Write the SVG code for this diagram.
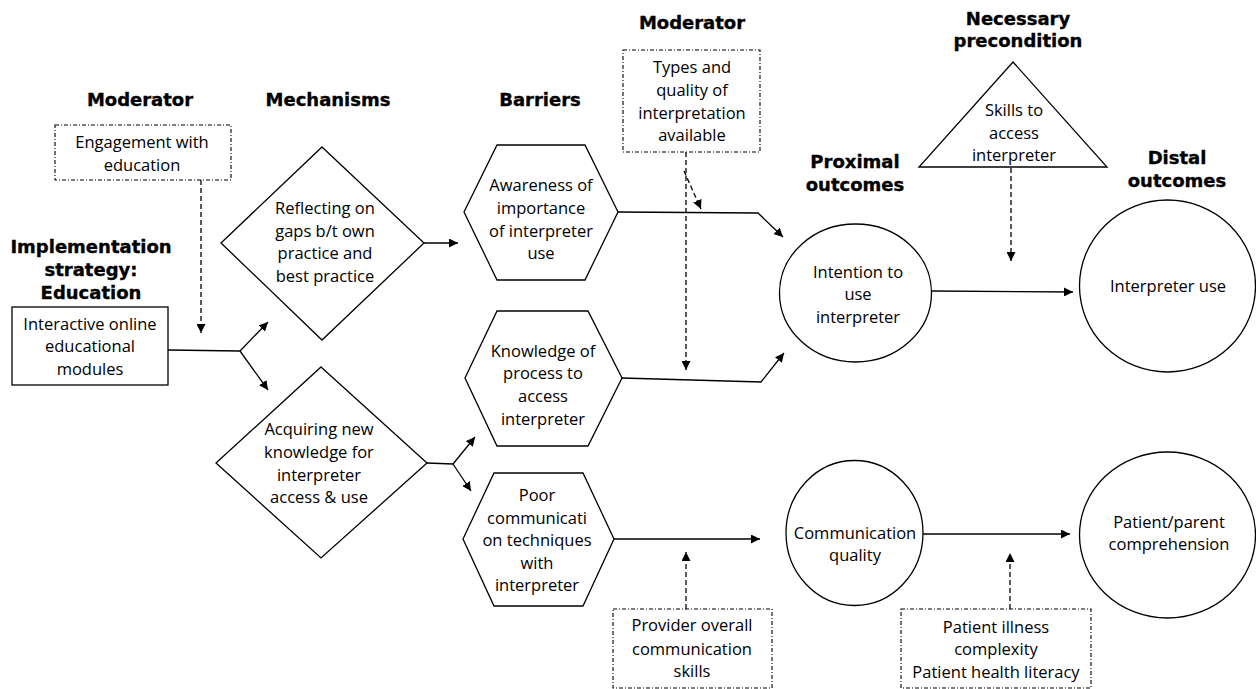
<svg xmlns="http://www.w3.org/2000/svg" width="1256" height="689" viewBox="0 0 1256 689">
<defs>
<style>
.h{font-family:"DejaVu Sans","Liberation Sans",sans-serif;font-weight:bold;font-size:18px;fill:#000;stroke:#000;stroke-width:0.35;text-anchor:middle}
.t{font-family:"Open Sans","Noto Sans","Liberation Sans",sans-serif;font-size:16.5px;fill:#000;text-anchor:middle}
.s{fill:#fff;stroke:#000;stroke-width:1.3}
.m{fill:#fff;stroke:#000;stroke-width:1.1;stroke-dasharray:4 2 1 2}
.c{fill:none;stroke:#000;stroke-width:1.3}
.d{fill:none;stroke:#000;stroke-width:1.3;stroke-dasharray:5 3}
</style>
<marker id="a" viewBox="0 0 10 10" refX="10" refY="5" markerWidth="9" markerHeight="9" markerUnits="userSpaceOnUse" orient="auto">
<path d="M0,0 L10,5 L0,10 z" fill="#000"/>
</marker>
</defs>
<rect width="1256" height="689" fill="#fff"/>

<g id="headings">
<text class="h" x="140" y="106">Moderator</text>
<text class="h" x="328" y="106">Mechanisms</text>
<text class="h" x="540" y="106">Barriers</text>
<text class="h" x="692" y="29">Moderator</text>
<text class="h" x="1018" y="25">Necessary</text>
<text class="h" x="1018" y="47">precondition</text>
<text class="h" x="855" y="168">Proximal</text>
<text class="h" x="855" y="191">outcomes</text>
<text class="h" x="1177" y="164">Distal</text>
<text class="h" x="1177" y="187">outcomes</text>
<text class="h" x="91" y="253">Implementation</text>
<text class="h" x="91" y="276">strategy:</text>
<text class="h" x="91" y="299">Education</text>
</g>

<g id="connectors">
<polyline class="c" points="168,350 240,351"/>
<line class="c" x1="240" y1="351" x2="268" y2="322" marker-end="url(#a)"/>
<line class="c" x1="240" y1="351" x2="268" y2="390" marker-end="url(#a)"/>
<line class="d" x1="201" y1="180" x2="201" y2="333" marker-end="url(#a)"/>
<line class="c" x1="424" y1="243" x2="458" y2="243" marker-end="url(#a)"/>
<polyline class="c" points="427,463 453,464"/>
<line class="c" x1="453" y1="464" x2="475" y2="437" marker-end="url(#a)"/>
<line class="c" x1="453" y1="464" x2="471" y2="491" marker-end="url(#a)"/>
<polyline class="c" points="618,212 758,213 783,237" marker-end="url(#a)"/>
<polyline class="c" points="622,378 761,382 784,353" marker-end="url(#a)"/>
<line class="c" x1="614" y1="539" x2="760" y2="539" marker-end="url(#a)"/>
<line class="c" x1="932" y1="291" x2="1073" y2="292" marker-end="url(#a)"/>
<line class="c" x1="923" y1="534" x2="1070" y2="534" marker-end="url(#a)"/>
<line class="d" x1="686" y1="152" x2="686" y2="370" marker-end="url(#a)"/>
<line class="d" x1="684" y1="171" x2="701" y2="209" marker-end="url(#a)"/>
<line class="d" x1="1011" y1="168" x2="1011" y2="261" marker-end="url(#a)"/>
<line class="d" x1="686" y1="609" x2="686" y2="552" marker-end="url(#a)"/>
<line class="d" x1="1010" y1="609" x2="1010" y2="553" marker-end="url(#a)"/>
</g>

<g id="mod-engagement">
<rect class="m" x="55" y="125" width="176" height="55"/>
<text class="t" x="142" y="148">Engagement with</text>
<text class="t" x="142" y="171">education</text>
</g>

<g id="education">
<rect class="s" x="12" y="307" width="156" height="78"/>
<text class="t" x="90" y="330">Interactive online</text>
<text class="t" x="90" y="352">educational</text>
<text class="t" x="90" y="375">modules</text>
</g>

<g id="reflecting">
<polygon class="s" points="322,147 424,243 322,340 221,243"/>
<text class="t" x="325" y="214">Reflecting on</text>
<text class="t" x="325" y="237">gaps b/t own</text>
<text class="t" x="325" y="259">practice and</text>
<text class="t" x="325" y="282">best practice</text>
</g>

<g id="acquiring">
<polygon class="s" points="321,367 427,463 321,558 216,463"/>
<text class="t" x="319" y="435">Acquiring new</text>
<text class="t" x="319" y="458">knowledge for</text>
<text class="t" x="319" y="481">interpreter</text>
<text class="t" x="319" y="503">access &amp; use</text>
</g>

<g id="awareness">
<polygon class="s" points="464,212 497,145 585,145 618,212 585,280 497,280"/>
<text class="t" x="541" y="191">Awareness of</text>
<text class="t" x="541" y="214">importance</text>
<text class="t" x="541" y="237">of interpreter</text>
<text class="t" x="541" y="259">use</text>
</g>

<g id="knowledge">
<polygon class="s" points="465,378 497,311 588,311 622,378 588,446 497,446"/>
<text class="t" x="543" y="357">Knowledge of</text>
<text class="t" x="543" y="379">process to</text>
<text class="t" x="543" y="402">access</text>
<text class="t" x="543" y="425">interpreter</text>
</g>

<g id="poor">
<polygon class="s" points="463,539 494,473 583,473 614,539 583,606 494,606"/>
<text class="t" x="537" y="501">Poor</text>
<text class="t" x="537" y="524">communicati</text>
<text class="t" x="537" y="546">on techniques</text>
<text class="t" x="537" y="569">with</text>
<text class="t" x="537" y="591">interpreter</text>
</g>

<g id="mod-types">
<rect class="m" x="623" y="50" width="137" height="102"/>
<text class="t" x="692" y="73">Types and</text>
<text class="t" x="692" y="96">quality of</text>
<text class="t" x="692" y="119">interpretation</text>
<text class="t" x="692" y="141">available</text>
</g>

<g id="skills">
<polygon class="s" points="1013,62 1107,167 919,167"/>
<text class="t" x="1014" y="116">Skills to</text>
<text class="t" x="1014" y="139">access</text>
<text class="t" x="1014" y="161">interpreter</text>
</g>

<g id="intention">
<ellipse class="s" cx="855.5" cy="293" rx="76" ry="69"/>
<text class="t" x="858" y="278">Intention to</text>
<text class="t" x="858" y="300">use</text>
<text class="t" x="858" y="323">interpreter</text>
</g>

<g id="interpreter-use">
<ellipse class="s" cx="1167.5" cy="286" rx="88" ry="86"/>
<text class="t" x="1168" y="292">Interpreter use</text>
</g>

<g id="communication">
<ellipse class="s" cx="854.5" cy="533" rx="68.5" ry="72.5"/>
<text class="t" x="855" y="539">Communication</text>
<text class="t" x="855" y="561">quality</text>
</g>

<g id="comprehension">
<ellipse class="s" cx="1167.5" cy="535" rx="88" ry="83"/>
<text class="t" x="1169" y="528">Patient/parent</text>
<text class="t" x="1169" y="550">comprehension</text>
</g>

<g id="mod-provider">
<rect class="m" x="613" y="609" width="159" height="79"/>
<text class="t" x="692" y="631">Provider overall</text>
<text class="t" x="692" y="655">communication</text>
<text class="t" x="692" y="677">skills</text>
</g>

<g id="mod-patient">
<rect class="m" x="901" y="609" width="190" height="79"/>
<text class="t" x="996" y="633">Patient illness</text>
<text class="t" x="996" y="655">complexity</text>
<text class="t" x="996" y="678">Patient health literacy</text>
</g>
</svg>
